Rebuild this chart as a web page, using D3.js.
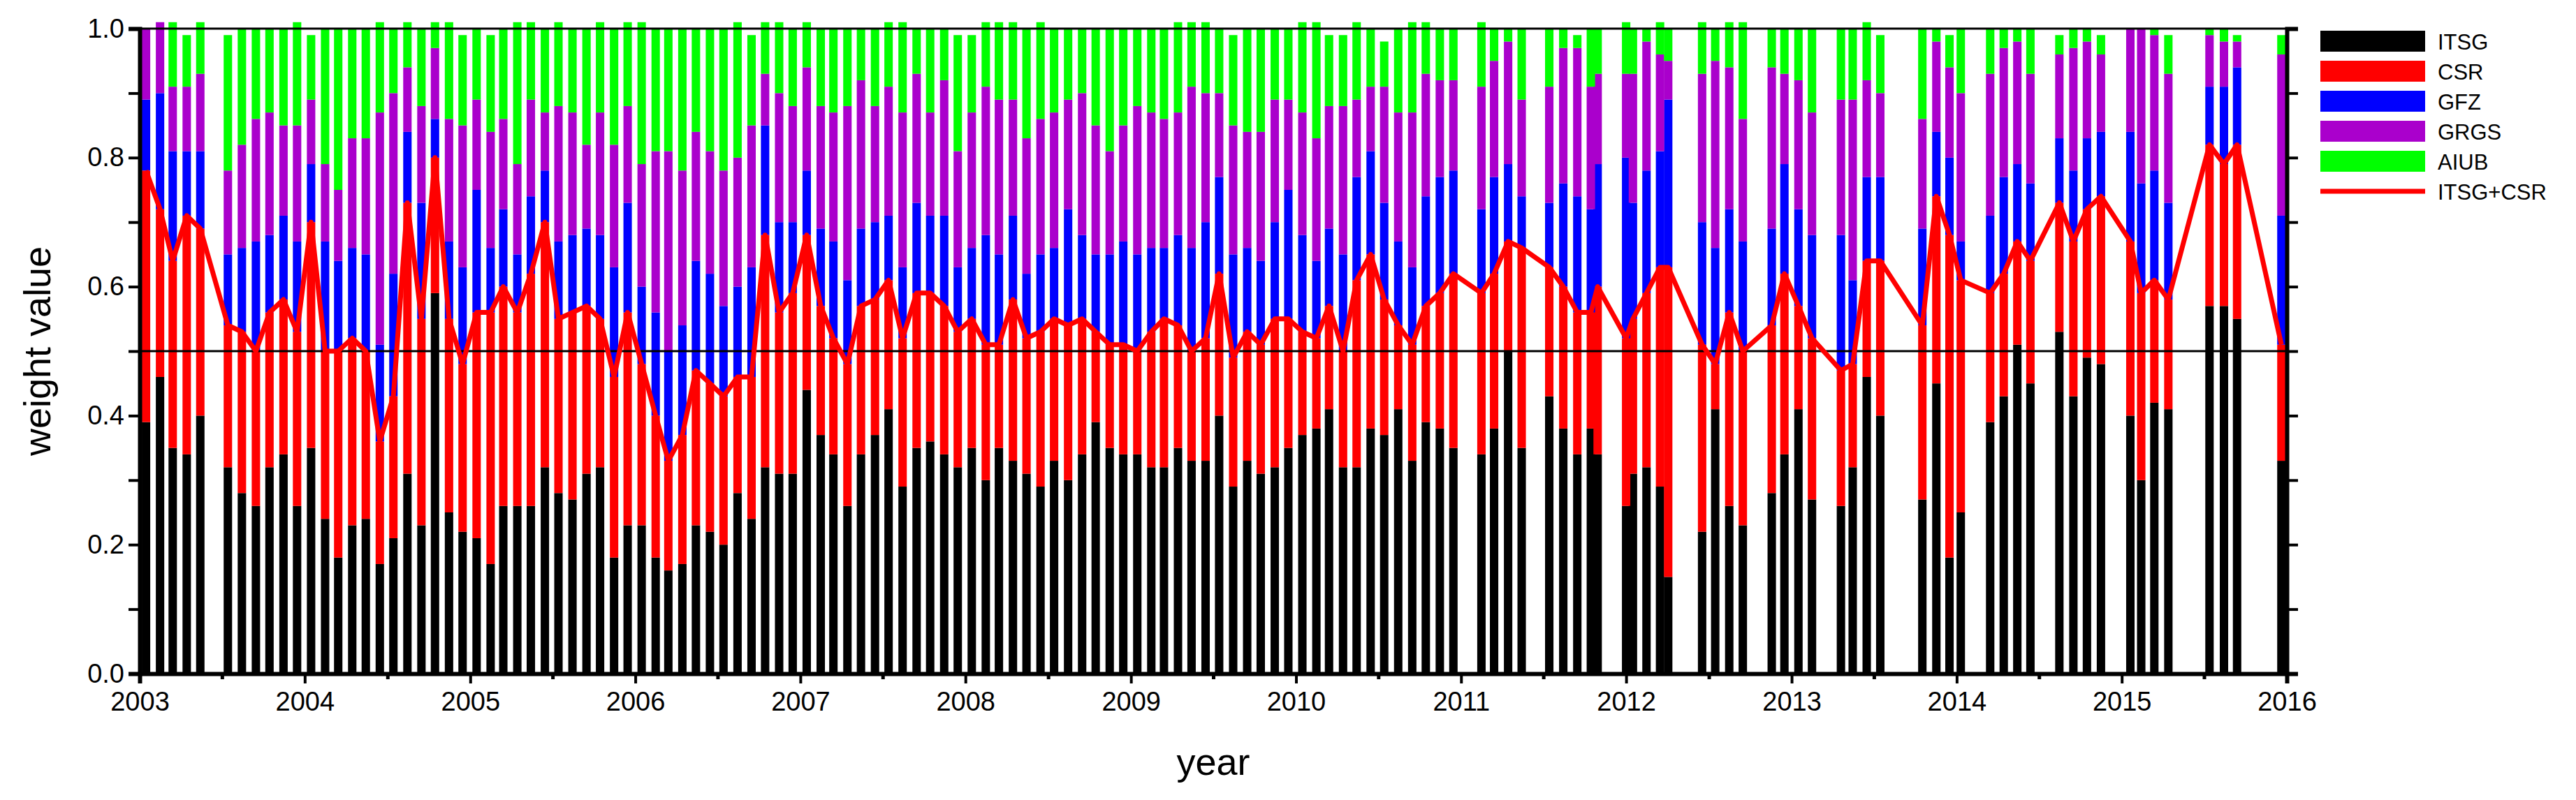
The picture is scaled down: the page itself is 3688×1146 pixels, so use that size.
<!DOCTYPE html>
<html><head><meta charset="utf-8">
<script src="https://cdn.jsdelivr.net/npm/d3@7"></script>
<style>body{margin:0;background:#fff}svg{display:block}text{font-family:"Liberation Sans",Arial,sans-serif}</style>
</head><body><svg id="c" width="3688" height="1146"></svg>
<script>
const dates = ["2003-01-15","2003-02-15","2003-03-15","2003-04-15","2003-05-15","2003-07-15","2003-08-15","2003-09-15","2003-10-15","2003-11-15","2003-12-15",
"2004-01-15","2004-02-15","2004-03-15","2004-04-15","2004-05-15","2004-06-15","2004-07-15","2004-08-15","2004-09-15","2004-10-15","2004-11-15","2004-12-15",
"2005-01-15","2005-02-15","2005-03-15","2005-04-15","2005-05-15","2005-06-15","2005-07-15","2005-08-15","2005-09-15","2005-10-15","2005-11-15","2005-12-15",
"2006-01-15","2006-02-15","2006-03-15","2006-04-15","2006-05-15","2006-06-15","2006-07-15","2006-08-15","2006-09-15","2006-10-15","2006-11-15","2006-12-15",
"2007-01-15","2007-02-15","2007-03-15","2007-04-15","2007-05-15","2007-06-15","2007-07-15","2007-08-15","2007-09-15","2007-10-15","2007-11-15","2007-12-15",
"2008-01-15","2008-02-15","2008-03-15","2008-04-15","2008-05-15","2008-06-15","2008-07-15","2008-08-15","2008-09-15","2008-10-15","2008-11-15","2008-12-15",
"2009-01-15","2009-02-15","2009-03-15","2009-04-15","2009-05-15","2009-06-15","2009-07-15","2009-08-15","2009-09-15","2009-10-15","2009-11-15","2009-12-15",
"2010-01-15","2010-02-15","2010-03-15","2010-04-15","2010-05-15","2010-06-15","2010-07-15","2010-08-15","2010-09-15","2010-10-15","2010-11-15","2010-12-15",
"2011-02-15","2011-03-15","2011-04-15","2011-05-15","2011-07-15","2011-08-15","2011-09-15","2011-10-15","2011-10-30",
"2012-01-01","2012-01-16","2012-02-15","2012-03-16","2012-04-03","2012-06-17","2012-07-16","2012-08-16","2012-09-15","2012-11-18","2012-12-16",
"2013-01-16","2013-02-15","2013-04-20","2013-05-16","2013-06-16","2013-07-16","2013-10-17","2013-11-17","2013-12-16",
"2014-01-10","2014-03-16","2014-04-15","2014-05-15","2014-06-13","2014-08-16","2014-09-16","2014-10-16","2014-11-16",
"2015-01-20","2015-02-13","2015-03-14","2015-04-14","2015-07-14","2015-08-15","2015-09-13","2015-12-20"];
const ITSG = [.39,.46,.35,.34,.40,.32,.28,.26,.32,.34,.26, .35,.24,.18,.23,.24,.17,.21,.31,.23,.59,.25,.22,
.21,.17,.26,.26,.26,.32,.28,.27,.31,.32,.18,.23, .23,.18,.16,.17,.23,.22,.20,.28,.24,.32,.31,.31,
.44,.37,.34,.26,.34,.37,.41,.29,.35,.36,.34,.32, .35,.30,.35,.33,.31,.29,.33,.30,.34,.39,.35,.34,
.34,.32,.32,.35,.33,.33,.40,.29,.33,.31,.32,.35, .37,.38,.41,.32,.32,.38,.37,.41,.33,.39,.38,.35,
.34,.38,.50,.35,.43,.38,.34,.38,.34, .26,.31,.32,.29,.15,.22,.41,.26,.23,.28,.34,
.41,.27,.26,.32,.46,.40,.27,.45,.18, .25,.39,.43,.51,.45,.53,.43,.49,.48, .40,.30,.42,.41,.57,.57,.55,.33];
const CSR = [.39,.26,.29,.37,.29,.22,.25,.24,.24,.24,.27, .35,.26,.32,.29,.26,.19,.22,.42,.32,.21,.30,.26,
.35,.39,.34,.30,.36,.38,.27,.29,.26,.23,.28,.33, .25,.22,.17,.20,.24,.23,.23,.18,.22,.36,.25,.28,
.24,.20,.18,.22,.23,.21,.20,.23,.24,.23,.23,.21, .20,.21,.16,.25,.21,.24,.22,.24,.21,.14,.16,.17,
.16,.21,.23,.19,.17,.19,.22,.20,.20,.20,.23,.20, .16,.14,.16,.18,.29,.27,.21,.13,.18,.18,.21,.27,
.25,.24,.17,.31,.20,.22,.22,.18,.26, .26,.24,.27,.34,.48,.29,.07,.30,.27,.26,.28,
.16,.25,.21,.16,.18,.24,.27,.29,.50, .36,.20,.19,.16,.19,.20,.24,.23,.26, .27,.29,.19,.17,.25,.22,.27,.18];
const GFZ = [.11,.18,.17,.10,.12,.11,.13,.17,.12,.13,.14, .09,.17,.14,.14,.15,.15,.19,.11,.18,.06,.12,.15,
.19,.10,.12,.09,.12,.08,.12,.12,.12,.13,.17,.17, .12,.16,.17,.17,.17,.17,.14,.14,.17,.17,.14,.11,
.10,.12,.15,.13,.12,.12,.10,.11,.14,.12,.14,.10, .11,.17,.14,.13,.10,.12,.11,.18,.13,.12,.14,.16,
.15,.13,.11,.14,.16,.18,.15,.16,.13,.13,.15,.20, .15,.12,.12,.15,.16,.16,.15,.13,.12,.17,.18,.16,
.13,.15,.12,.08,.10,.16,.18,.16,.19, .28,.18,.19,.18,.26,.19,.18,.16,.17,.15,.17,
.15,.16,.21,.13,.13,.13,.15,.10,.12, .06,.12,.15,.12,.12,.10,.11,.11,.10, .17,.17,.17,.15,.09,.12,.12,.20];
const GRGS = [.11,.11,.10,.10,.12,.13,.16,.19,.19,.14,.18, .10,.12,.11,.17,.18,.36,.28,.10,.15,.11,.19,.22,
.14,.18,.14,.14,.15,.09,.21,.19,.13,.19,.19,.15, .19,.25,.31,.24,.20,.19,.21,.20,.22,.08,.20,.18,
.16,.19,.20,.27,.23,.18,.20,.24,.20,.16,.21,.18, .21,.23,.24,.18,.21,.21,.21,.17,.22,.20,.16,.18,
.23,.21,.20,.19,.25,.20,.13,.20,.18,.20,.19,.14, .19,.19,.19,.23,.12,.10,.18,.20,.24,.19,.15,.14,
.19,.18,.19,.15,.18,.21,.23,.19,.14, .13,.20,.20,.15,.06,.23,.29,.22,.19,.25,.14,
.20,.19,.21,.28,.15,.13,.17,.14,.14, .23,.22,.20,.19,.17,.13,.19,.15,.12, .16,.24,.21,.20,.08,.07,.04,.25];
const AIUB = [0,0,.10,.08,.08,.21,.18,.14,.13,.15,.16, .10,.21,.25,.17,.17,.14,.10,.07,.12,.04,.15,.14,
.11,.15,.14,.22,.12,.13,.13,.13,.18,.14,.18,.13, .22,.19,.19,.22,.16,.19,.22,.21,.14,.08,.11,.12,
.07,.12,.13,.12,.08,.12,.10,.14,.07,.13,.08,.18, .12,.10,.12,.12,.17,.15,.13,.11,.10,.15,.19,.15,
.12,.13,.14,.14,.10,.11,.10,.14,.16,.16,.11,.11, .14,.18,.11,.11,.12,.09,.07,.13,.14,.08,.08,.08,
.10,.05,.02,.11,.09,.03,.02,.09,.07, .08,.07,.02,.05,.05,.08,.05,.07,.15,.06,.07,
.08,.13,.11,.11,.09,.09,.14,.02,.05, .10,.07,.03,.02,.07,.03,.03,.02,.03, 0,0,.01,.06,.01,.02,.01,.03];
const seriesNames = ["ITSG","CSR","GFZ","GRGS","AIUB"];
const seriesColors = ["#000000","#ff0000","#0000ff","#aa00cc","#00ff00"];
const yTicks = [0,0.2,0.4,0.6,0.8,1.0];
const xTickYears = [2003,2004,2005,2006,2007,2008,2009,2010,2011,2012,2013,2014,2015,2016];

const svg = d3.select("#c");
const L=200,R=3274,T=41,B=965;
const parse = d3.timeParse("%Y-%m-%d");
const x = d3.scaleTime().domain([new Date(2003,0,1),new Date(2016,0,1)]).range([L,R]);
const y = d3.scaleLinear().domain([0,1]).range([B,T]);
const rows = dates.map((d,i)=>({date:parse(d),ITSG:ITSG[i],CSR:CSR[i],GFZ:GFZ[i],GRGS:GRGS[i],AIUB:AIUB[i]}));
const stack = d3.stack().keys(seriesNames)(rows);
const bw = (x(new Date(2003,1,1))-x(new Date(2003,0,1)))*0.6;
svg.append("defs").append("clipPath").attr("id","cp").append("rect").attr("x",L).attr("y",0).attr("width",R-L).attr("height",B);
const g = svg.append("g").attr("clip-path","url(#cp)");
stack.forEach((s,k)=>{
  g.append("g").selectAll("rect").data(s).join("rect")
   .attr("x",d=>x(d.data.date)-bw/2).attr("width",bw)
   .attr("y",d=>y(d[1])).attr("height",d=>Math.max(0,y(d[0])-y(d[1])))
   .attr("fill",seriesColors[k]);
});
// 0.5 reference line
svg.append("line").attr("x1",L).attr("x2",R).attr("y1",y(0.5)).attr("y2",y(0.5)).attr("stroke","#000").attr("stroke-width",3);
// ITSG+CSR line
svg.append("path").datum(rows).attr("fill","none").attr("stroke","#ff0000").attr("stroke-width",7).attr("stroke-linejoin","round")
  .attr("d",d3.line().x(d=>x(d.date)).y(d=>y(d.ITSG+d.CSR)));
// frame
svg.append("line").attr("x1",L).attr("x2",R).attr("y1",T).attr("y2",T).attr("stroke","#000").attr("stroke-width",3);
// left axis
const ya = d3.axisLeft(y).tickValues(d3.range(0,1.0001,0.1)).tickSize(16).tickFormat(d=>yTicks.some(t=>Math.abs(t-d)<1e-6)?d3.format(".1f")(d):"");
const gl = svg.append("g").attr("transform",`translate(${L},0)`).call(ya);
gl.select(".domain").attr("stroke-width",6);
gl.selectAll(".tick line").attr("stroke-width",4);
gl.selectAll("text").attr("font-size",38).attr("x",-22);
const yr = d3.axisRight(y).tickValues(d3.range(0,1.0001,0.1)).tickSize(16).tickFormat("");
const gr = svg.append("g").attr("transform",`translate(${R},0)`).call(yr);
gr.select(".domain").attr("stroke-width",6);
gr.selectAll(".tick line").attr("stroke-width",4);
// bottom axis
const xa = d3.axisBottom(x).tickValues(xTickYears.map(v=>new Date(v,0,1))).tickSize(14).tickFormat(d3.timeFormat("%Y"));
const gb = svg.append("g").attr("transform",`translate(0,${B})`).call(xa);
gb.select(".domain").attr("stroke-width",6);
gb.selectAll(".tick line").attr("stroke-width",4);
gb.selectAll("text").attr("font-size",38).attr("y",26);
const gm = svg.append("g").attr("transform",`translate(0,${B})`).call(d3.axisBottom(x).tickValues(xTickYears.slice(0,-1).map(v=>new Date(v,6,2))).tickSize(8).tickFormat(""));
gm.select(".domain").remove(); gm.selectAll(".tick line").attr("stroke-width",5);
// titles
svg.append("text").attr("x",(L+R)/2).attr("y",1110).attr("text-anchor","middle").attr("font-size",54).text("year");
svg.append("text").attr("transform",`translate(72,${(T+B)/2}) rotate(-90)`).attr("text-anchor","middle").attr("font-size",54).text("weight value");
// legend
const lg = svg.append("g").attr("transform","translate(3322,44)");
seriesNames.forEach((n,i)=>{
  lg.append("rect").attr("x",0).attr("y",i*43).attr("width",150).attr("height",30).attr("fill",seriesColors[i]);
  lg.append("text").attr("x",168).attr("y",i*43+27).attr("font-size",31).text(n);
});
lg.append("line").attr("x1",0).attr("x2",150).attr("y1",5*43+15).attr("y2",5*43+15).attr("stroke","#ff0000").attr("stroke-width",7);
lg.append("text").attr("x",168).attr("y",5*43+27).attr("font-size",31).text("ITSG+CSR");
</script></body></html>
